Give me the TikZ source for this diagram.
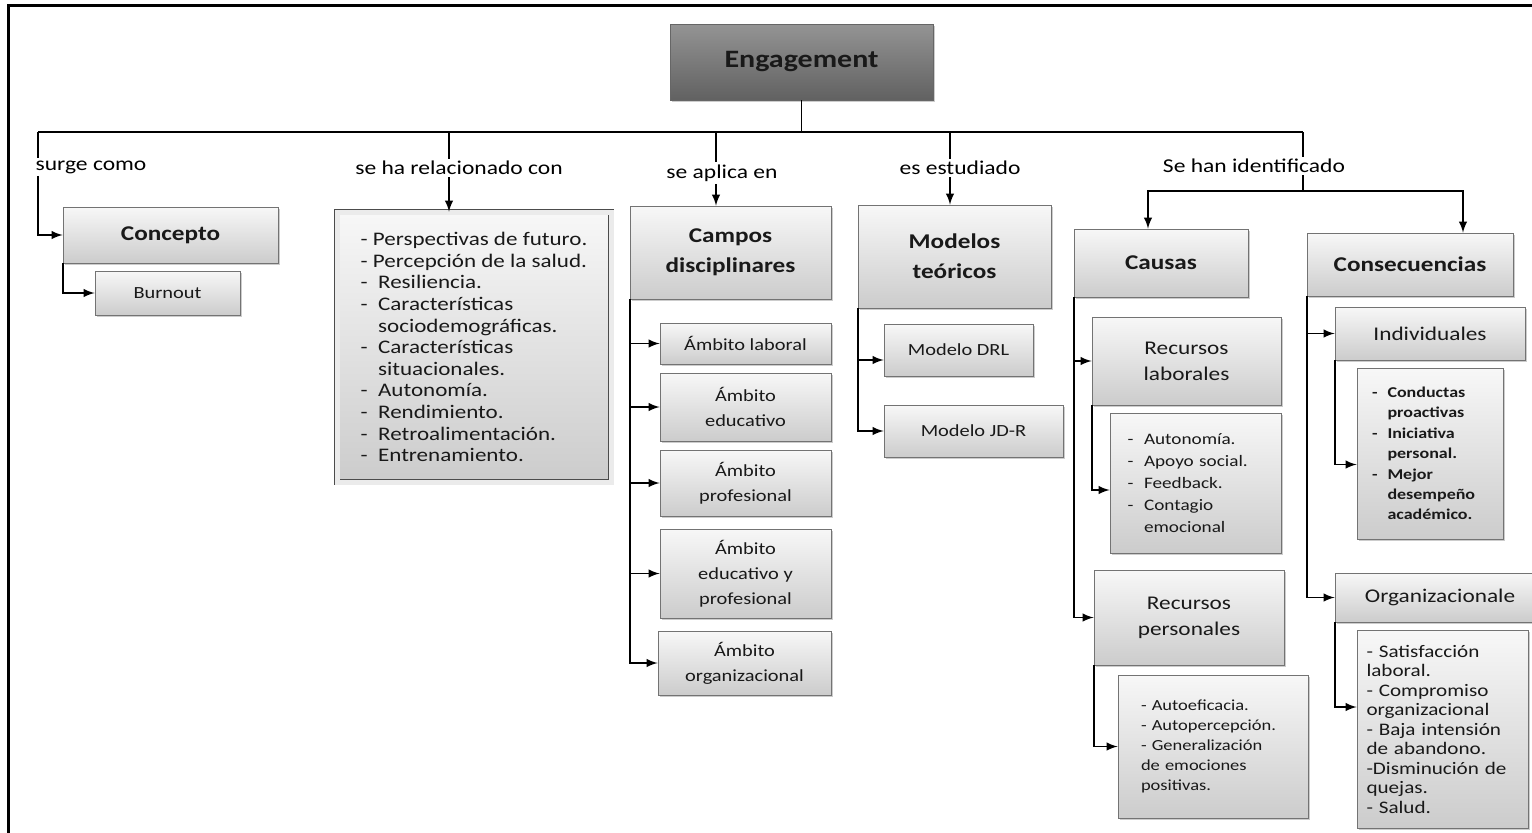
\documentclass[tikz,border=0pt]{standalone}
\usepackage{fontspec}
\setmainfont{Carlito}[FakeStretch=1.2]
\usepackage{tikz}
\usetikzlibrary{shadows}
\usetikzlibrary{arrows,shapes}
\usetikzlibrary{calc}
\tikzstyle{box}=[draw=black!55, top color=black!3, bottom color=black!20, drop shadow={shadow xshift=1pt, shadow yshift=-1pt, fill=black!40}, inner sep=2pt, align=center, text=black!90]
\tikzstyle{headbox}=[box, font=\bfseries\fontsize{10.5}{15}\selectfont]
\tikzstyle{subbox}=[box, font=\fontsize{8.5}{12.5}\selectfont]
\tikzstyle{midbox}=[box, font=\fontsize{9.7}{13}\selectfont]
\tikzstyle{listbox}=[box, align=left, font=\fontsize{8}{11}\selectfont]
\tikzstyle{lbl}=[font=\fontsize{9.8}{11}\selectfont, inner sep=1pt]
\tikzstyle{conn}=[draw, line width=0.9pt]
\tikzstyle{arr}=[draw, line width=0.9pt, ->, >=latex]

\begin{document}
\begin{tikzpicture}[x=0.5pt, y=-0.5pt]

  \useasboundingbox (0,0) rectangle (1532,832);
  \clip (0,0) rectangle (1532,832);

  % frame
  \draw[line width=1.5pt] (8,840) -- (8,5) -- (1540,5);

  % root
  \node[box, draw=black!60, top color=black!42, bottom color=black!62, font=\bfseries\fontsize{12.5}{14}\selectfont,
        minimum width=131.5pt, minimum height=38pt] (engage) at (801.5,62) {Engagement};

  % bus
  \foreach \x/\name in {38/b1, 449/b2, 716/b3, 950/b4, 1303/b5}
         \coordinate (\name) at (\x,132);
  \path[conn] (b1) -- (b5);
  \path[conn] (engage.south) -- (engage.south |- b1);

  % labels on the bus
  \foreach \x/\y/\name/\label in { 91/167/lsurge/{surge como}, 459/168/lrel/{se ha relacionado con},
          722/173/laplica/{se aplica en}, 960/168/lestud/{es estudiado}, 1254/166/lident/{Se han identificado}}
          \node[lbl] (\name) at (\x,\y) {\label};

  % concepto
  \node[headbox, minimum width=107.5pt, minimum height=28pt] (concepto) at (170.5,235) {Concepto};
  \node[box, font=\fontsize{8.5}{9}\selectfont, minimum width=72.5pt, minimum height=22pt] (burnout) at (167.5,293) {Burnout};

  \path[conn] (b1) -- (b1 |- lsurge.north);
  \path[arr] (b1 |- lsurge.south) |- (concepto.west);
  \path[arr] (concepto.south west) |- (burnout.west);

  % se ha relacionado con
  \node[box, double=black!8, double distance=2.5pt, draw=black!70, align=left,
        minimum width=137pt, minimum height=135pt, font=\fontsize{9.6}{10.8}\selectfont] (relacion) at (474,347)
        {- Perspectivas de futuro.\\
         - Percepción de la salud.\\
         -\ \ Resiliencia.\\
         -\ \ Características\\
         \phantom{-\ \ }sociodemográficas.\\
         -\ \ Características\\
         \phantom{-\ \ }situacionales.\\
         -\ \ Autonomía.\\
         -\ \ Rendimiento.\\
         -\ \ Retroalimentación.\\
         -\ \ Entrenamiento.};

  \path[conn] (b2) -- (b2 |- lrel.north);
  \path[arr] (b2 |- lrel.south) -- (b2 |- relacion.north);

  % campos disciplinares
  \node[headbox, minimum width=100.5pt, minimum height=46.5pt] (campos) at (730.5,252.5) {Campos\\disciplinares};

  \foreach \x/\y/\w/\h/\name/\label in { 745.5/343.5/85.5/20.5/laboral/{Ámbito laboral},
          745.5/407/85.5/34/educativo/{Ámbito\\educativo}, 745.5/483/85.5/33/profesional/{Ámbito\\profesional},
          745.5/573.5/85.5/44.5/eduprof/{Ámbito\\educativo y\\profesional}, 744.5/663/86.5/32/organiz/{Ámbito\\organizacional}}
          \node[subbox, minimum width=\w pt, minimum height=\h pt] (\name) at (\x,\y) {\label};

  \path[conn] (b3) -- (b3 |- laplica.north);
  \path[arr] (b3 |- laplica.south) -- (b3 |- campos.north);
  \foreach \dest in {laboral, educativo, profesional, eduprof, organiz}
         \path[arr] (campos.south west) |- (\dest.west);

  % modelos teoricos
  \node[headbox, minimum width=96.5pt, minimum height=51.5pt] (modelos) at (954.5,256.5) {Modelos\\teóricos};
  \node[subbox, minimum width=74.5pt, minimum height=26pt] (drl) at (958.5,350) {Modelo DRL};
  \node[subbox, minimum width=89.5pt, minimum height=26pt] (jdr) at (973.5,431) {Modelo JD-R};

  \path[conn] (b4) -- (b4 |- lestud.north);
  \path[arr] (b4 |- lestud.south) -- (b4 |- modelos.north);
  \path[arr] (modelos.south west) |- ([yshift=-5pt]drl.west);
  \path[arr] (modelos.south west) |- (jdr.west);

  % se han identificado
  \coordinate (split) at (1303,191);
  \path[conn] (b5) -- (b5 |- lident.north);
  \path[conn] (b5 |- lident.south) -- (split);

  \node[headbox, minimum width=87pt, minimum height=34pt] (causas) at (1161,263) {Causas};
  \node[headbox, minimum width=103pt, minimum height=31.5pt] (consec) at (1410,264.5) {Consecuencias};

  \path[arr] (split) -| ([xshift=-6.5pt]causas.north);
  \path[arr] (split) -| ([xshift=26.5pt]consec.north);

  % causas
  \node[midbox, minimum width=94.5pt, minimum height=44pt] (reclab) at (1186.5,361) {Recursos\\laborales};
  \node[listbox, text width=68pt, inner xsep=8.75pt, minimum height=70pt] (lablist) at (1195.5,483)
        {-\ \ Autonomía.\\
         -\ \ Apoyo social.\\
         -\ \ Feedback.\\
         -\ \ Contagio\\
         \phantom{-\ \ }emocional};
  \node[midbox, minimum width=95pt, minimum height=47.5pt] (recper) at (1189,617.5) {Recursos\\personales};
  \node[listbox, text width=72pt, inner xsep=11.5pt, minimum height=71.5pt, font=\fontsize{7.7}{10}\selectfont] (perlist) at (1213,746.5)
        {- Autoeficacia.\\
         - Autopercepción.\\
         - Generalización\\
         de emociones\\
         positivas.};

  \path[arr] (causas.south west) |- (reclab.west);
  \path[arr] (causas.south west) |- (recper.west);
  \path[arr] (reclab.south west) |- ([yshift=-3.5pt]lablist.west);
  \path[arr] (recper.south west) |- (perlist.west);

  % consecuencias
  \node[midbox, minimum width=95pt, minimum height=26.5pt] (indiv) at (1430,333.5) {Individuales};
  \node[listbox, text width=58pt, inner xsep=7.5pt, minimum height=85.5pt, font=\bfseries\fontsize{7.5}{10.2}\selectfont] (indlist) at (1430,453.5)
        {-\ \ Conductas\\
         \phantom{-\ \ }proactivas\\
         -\ \ Iniciativa\\
         \phantom{-\ \ }personal.\\
         -\ \ Mejor\\
         \phantom{-\ \ }desempeño\\
         \phantom{-\ \ }académico.};
  \node[midbox, minimum width=105pt, minimum height=24.5pt] (orgz) at (1440,597.5) {Organizacionale};
  \node[listbox, text width=76pt, inner xsep=4.75pt, minimum height=99pt, font=\fontsize{8.8}{9.75}\selectfont] (orglist) at (1442.5,729)
        {- Satisfacción\\
         laboral.\\
         - Compromiso\\
         organizacional\\
         - Baja intensión\\
         de abandono.\\
         -Disminución de\\
         quejas.\\
         - Salud.};

  \path[arr] (consec.south west) |- (indiv.west);
  \path[arr] (consec.south west) |- (orgz.west);
  \path[arr] (indiv.south west) |- ([yshift=-5.5pt]indlist.west);
  \path[arr] (orgz.south west) |- ([yshift=11pt]orglist.west);

\end{tikzpicture}
\end{document}
